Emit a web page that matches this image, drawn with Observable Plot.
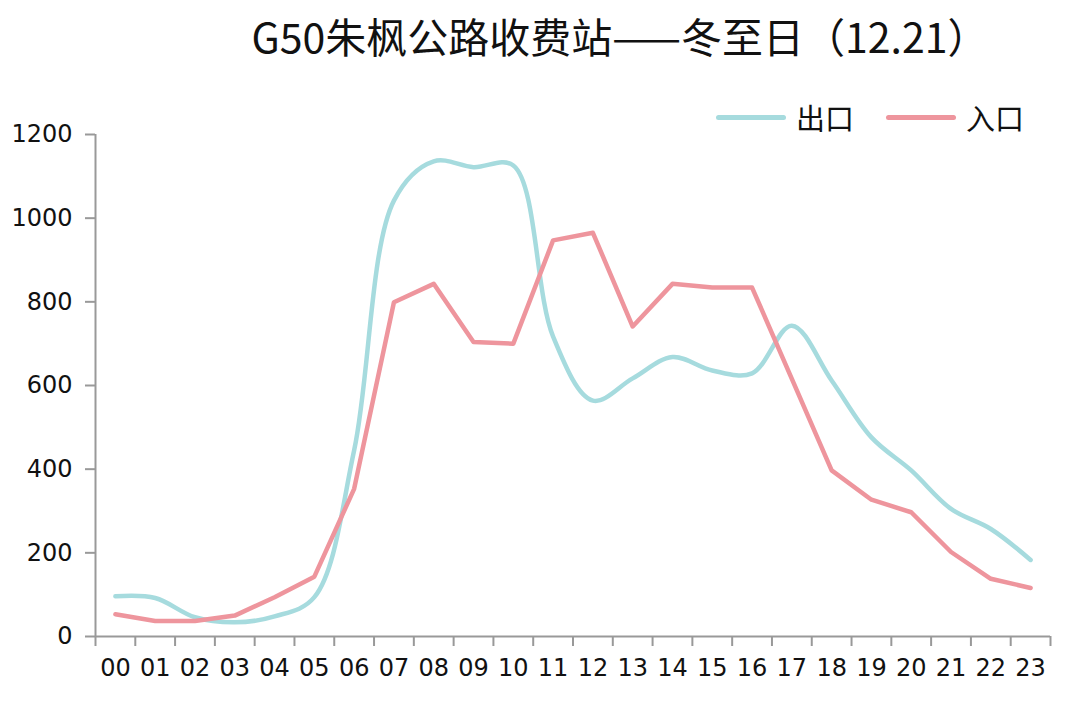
<!DOCTYPE html>
<html>
<head>
<meta charset="utf-8">
<script src="https://cdn.jsdelivr.net/npm/d3@7"></script>
<script src="https://cdn.jsdelivr.net/npm/@observablehq/plot@0.6"></script>
<style>
  html, body { margin: 0; padding: 0; background: #fff; overflow: hidden; }
  #wrap { position: relative; width: 1073px; height: 720px; }
  #title { position: absolute; left: 167px; width: 906px; top: 12px; text-align: center;
    font-family: "Noto Sans CJK SC", "Noto Sans", sans-serif; font-size: 41px; line-height: 46px; color: #111; white-space: nowrap; }
  #legend { position: absolute; top: 96px; left: 716px; display: flex; align-items: center;
    font-family: "Noto Sans CJK SC", sans-serif; font-size: 29px; color: #111; }
  #legend .item { display: flex; align-items: center; margin-right: 32px; }
  #legend .sw { width: 70px; height: 5px; border-radius: 3px; margin-right: 10px; }
  #chart { position: absolute; left: 0; top: 0; }
</style>
</head>
<body>
<div id="wrap">
  <div id="chart"></div>
  <div id="title"></div>
  <div id="legend"></div>
</div>
<script>
const titleText = "G50朱枫公路收费站——冬至日（12.21）";
const hourLabels = ["00","01","02","03","04","05","06","07","08","09","10","11","12","13","14","15","16","17","18","19","20","21","22","23"];
const seriesNames = ["出口", "入口"];
const seriesColors = ["#a6dbde", "#ee959d"];
const exitValues  = [96, 92, 46, 34, 48, 94, 445, 1042, 1136, 1122, 1126, 717, 564, 617, 668, 636, 629, 743, 612, 476, 397, 305, 257, 183];
const entryValues = [53, 37, 37, 50, 94, 143, 353, 799, 843, 704, 700, 947, 965, 741, 843, 834, 834, 616, 397, 327, 297, 202, 138, 116];
const yTicks = [0, 200, 400, 600, 800, 1000, 1200];

const hours = hourLabels.map((_, i) => i);
const bandEdges = d3.range(-0.5, hourLabels.length, 1);
const exitData = hours.map(i => ({hour: i, value: exitValues[i]}));
const entryData = hours.map(i => ({hour: i, value: entryValues[i]}));

document.getElementById("title").textContent = titleText;
const legend = document.getElementById("legend");
seriesNames.forEach((n, i) => {
  const it = document.createElement("div");
  it.className = "item";
  it.innerHTML = `<span class="sw" style="background:${seriesColors[i]}"></span><span>${n}</span>`;
  legend.appendChild(it);
});

const axisColor = "#999";
const tickFont = "'DejaVu Sans', sans-serif";

const chart = Plot.plot({
  width: 1073,
  height: 720,
  marginTop: 134,
  marginBottom: 84,
  marginLeft: 95,
  marginRight: 23,
  style: {fontFamily: tickFont, fontSize: "24px", color: "#111", background: "white"},
  x: {type: "linear", domain: [-0.5, hourLabels.length - 0.5]},
  y: {domain: [0, 1200]},
  marks: [
    Plot.axisY({ticks: yTicks, tickSize: 10, tickPadding: 13, tickFormat: d => String(d), stroke: axisColor, strokeWidth: 2, fill: "#111", fontSize: 24, label: null}),
    Plot.axisX({ticks: bandEdges, tickSize: 10, tickFormat: () => "", stroke: axisColor, strokeWidth: 2, label: null}),
    Plot.axisX({ticks: hours, tickSize: 0, tickPadding: 22, tickFormat: d => hourLabels[d], fill: "#111", fontSize: 24, label: null}),
    Plot.ruleY([0], {stroke: axisColor, strokeWidth: 2}),
    Plot.ruleX([-0.5], {stroke: axisColor, strokeWidth: 2}),
    Plot.line(exitData, {x: "hour", y: "value", stroke: seriesColors[0], strokeWidth: 4.5, curve: "catmull-rom"}),
    Plot.line(entryData, {x: "hour", y: "value", stroke: seriesColors[1], strokeWidth: 4.5})
  ]
});
document.getElementById("chart").appendChild(chart);
</script>
</body>
</html>
